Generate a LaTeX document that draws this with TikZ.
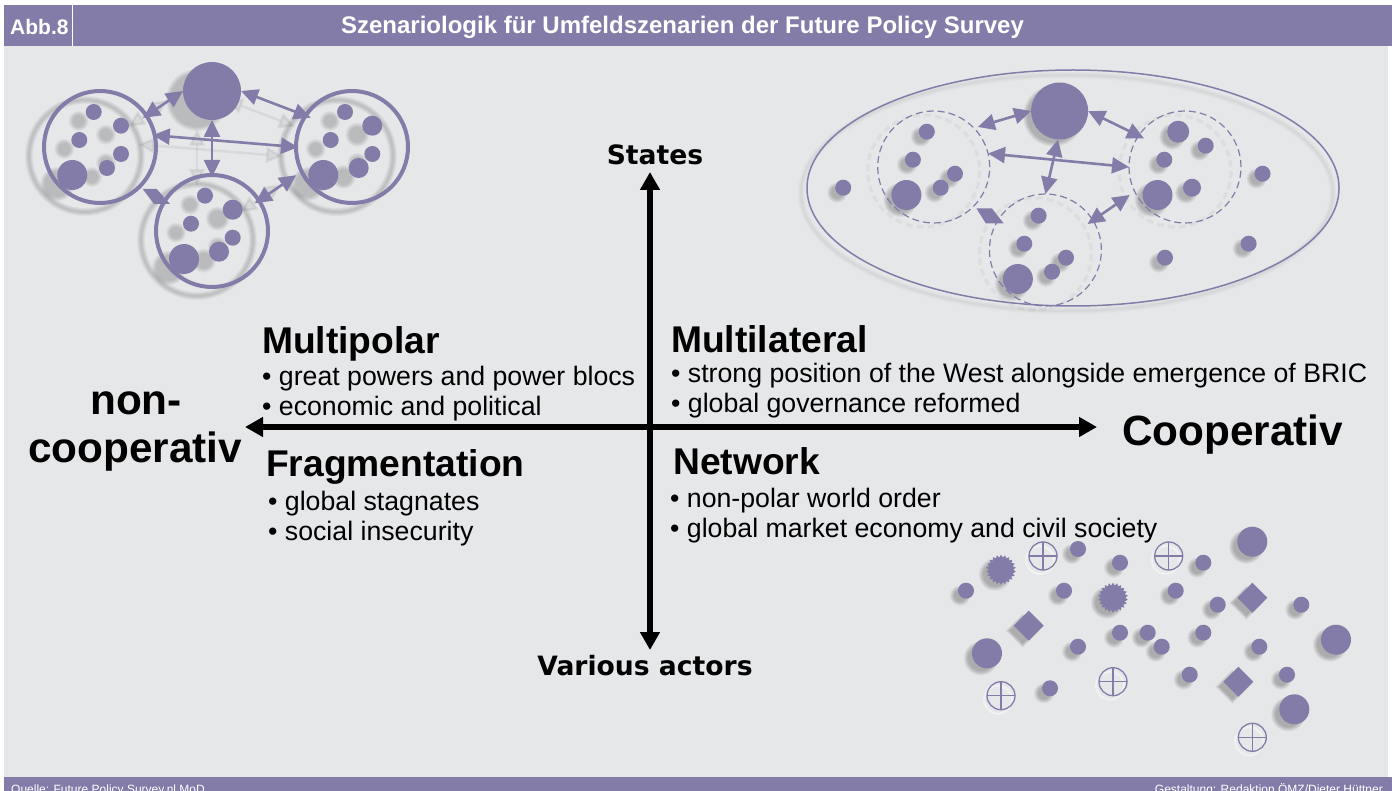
\documentclass[tikz,border=0pt]{standalone}
\usepackage{fontspec}
\setmainfont{Liberation Sans}
\newfontfamily\vfont{DejaVu Sans}
\usetikzlibrary{arrows.meta,shapes.geometric}
\definecolor{pur}{HTML}{837BA8}
\definecolor{panel}{HTML}{E6E7E9}
\pgfdeclarelayer{panellayer}
\pgfdeclarelayer{shadowlayer}
\pgfsetlayers{panellayer,shadowlayer,main}
\tikzset{
  disc/.style={circle,fill=pur,inner sep=0pt,outer sep=0pt,minimum size=#1},
  ring/.style={circle,draw=pur,line width=4pt,inner sep=0pt,outer sep=0pt,minimum size=112pt},
  dashring/.style={circle,draw=pur,line width=1.2pt,dash pattern=on 7pt off 4pt,inner sep=0pt,outer sep=0pt,minimum size=112pt},
  dbl/.style={draw=pur,line width=2.6pt,{Triangle[length=17pt,width=16pt]}-{Triangle[length=17pt,width=16pt]}},
  axisline/.style={draw=black,line width=6pt,{Triangle[length=18pt,width=19pt]}-{Triangle[length=18pt,width=19pt]}},
  badge/.style={diamond,fill=pur,inner sep=0pt,outer sep=0pt,minimum size=30pt},
  burst/.style={star,star points=22,star point ratio=1.22,fill=pur,inner sep=0pt,outer sep=0pt,minimum size=30pt},
  crossring/.style={circle,draw=pur,line width=1.3pt,inner sep=0pt,outer sep=0pt,minimum size=28pt},
  body/.style={anchor=base west,inner sep=0pt,text=black,font=\fontsize{26.7}{30}\selectfont},
  head/.style={anchor=base west,inner sep=0pt,text=black,font=\fontsize{37.2}{40}\selectfont\bfseries},
  big/.style={inner sep=0pt,text=black,font=\fontsize{42.3}{46}\selectfont\bfseries},
  axlabel/.style={anchor=base,inner sep=0pt,text=black,font=\vfont\fontsize{26.6}{28}\selectfont\bfseries},
  foot/.style={inner sep=0pt,text=white,font=\fontsize{12}{14}\selectfont},
}
\def\sx{-15}\def\sy{9}\def\sop{.04}\def\aop{.06}
% named disc with soft shadow
\newcommand{\pd}[4]{%
  \begin{pgfonlayer}{shadowlayer}
  \foreach \dd in {-2,-1,0,1,2}{\fill[black,opacity=\sop] (#2+\sx,#3+\sy) circle[radius=#4+\dd];}
  \end{pgfonlayer}
  \node[disc=2*#4 pt] (#1) at (#2,#3) {};}
\newcommand{\pdia}[3]{%
  \begin{pgfonlayer}{shadowlayer}
  \foreach \dd in {-2,-1,0,1,2}{\fill[black,opacity=\sop] (#2+\sx,#3+\sy-15-\dd) -- (#2+\sx+15+\dd,#3+\sy) -- (#2+\sx,#3+\sy+15+\dd) -- (#2+\sx-15-\dd,#3+\sy) -- cycle;}
  \end{pgfonlayer}
  \node[badge] (#1) at (#2,#3) {};}
\newcommand{\pburst}[3]{%
  \begin{pgfonlayer}{shadowlayer}
  \foreach \dd in {-2,-1,0,1,2}{\fill[black,opacity=\sop] (#2+\sx,#3+\sy) circle[radius=14+\dd];}
  \end{pgfonlayer}
  \node[burst] (#1) at (#2,#3) {};}
\newcommand{\pcross}[3]{%
  \begin{pgfonlayer}{shadowlayer}
  \draw[white,line width=2pt,opacity=.45] (#2-3,#3+4) circle[radius=14];
  \end{pgfonlayer}
  \node[crossring] (#1) at (#2,#3) {};
  \draw[pur,line width=1.3pt] (#1.north) -- (#1.south) (#1.west) -- (#1.east);}
\newcommand{\pring}[4]{%
  \begin{pgfonlayer}{shadowlayer}
  \foreach \ww in {8,6,4,2}{\draw[black,opacity=.045,line width=\ww pt] (#2+\sx,#3+\sy) circle[radius=56];}
  \end{pgfonlayer}
  \node[#4] (#1) at (#2,#3) {};}
\newcommand{\dbar}[4]{%
  \begin{pgfonlayer}{shadowlayer}
  \path[dbl,draw=black,opacity=\aop,shorten <=#3pt,shorten >=#4pt] ([shift={(\sx,\sy)}]#1) -- ([shift={(\sx,\sy)}]#2);
  \end{pgfonlayer}
  \path[dbl,shorten <=#3pt,shorten >=#4pt] (#1) -- (#2);}
\begin{document}
\begin{tikzpicture}[x=1pt,y=-1pt]
\useasboundingbox (0,0) rectangle (1392,791);
\begin{pgfonlayer}{panellayer}
\fill[white] (0,0) rectangle (1392,791);
\fill[panel] (4,46) rectangle (1388,777);
\end{pgfonlayer}
% header and footer bars
\fill[pur] (4,5) rectangle (1392,46);
\fill[pur] (4,777) rectangle (1392,791);
\draw[white,line width=1.3pt] (72.5,5) -- (72.5,46);
\node[anchor=base west,inner sep=0pt,text=white,font=\fontsize{21}{24}\selectfont\bfseries] (abb) at (10,35) {Abb.8};
\node[anchor=base,inner sep=0pt,text=white,font=\fontsize{24}{27}\selectfont\bfseries] (title) at (682.5,34) {Szenariologik für Umfeldszenarien der Future Policy Survey};
\begin{scope}
\clip (0,0) rectangle (1392,791);
\node[foot,anchor=base west] (src) at (11,793) {Quelle: Future Policy Survey.nl MoD};
\node[foot,anchor=base east] (cred) at (1383,793) {Gestaltung: Redaktion ÖMZ/Dieter Hüttner};
\end{scope}
% ---------- top-left: multipolar
\def\sx{-15}\def\sy{9}\def\sop{.04}\def\aop{.06}
\pd{tc}{212}{91}{29}
\pring{ra}{100}{147}{ring}
\pring{rb}{352}{147}{ring}
\pring{rc}{212}{231}{ring}
\foreach \n/\x/\y/\r in {a1/93.7/112/8,a2/121/125.7/8,a3/79.3/140/8,a4/121/154/8,a5/107/168/8,a6/72.3/175/15,
 b1/345/112/8,b2/372.3/125.7/10,b3/330.7/140/8,b4/372.3/154/8,b5/358.7/168/10,b6/323.3/175/15,
 c1/205/195.7/8,c2/232.7/209.7/10,c3/191/223.7/8,c4/232.7/237.7/8,c5/219/251.7/10,c6/184/259/15}
 {\pd{\n}{\x}{\y}{\r}}
\dbar{ra.34}{tc.180}{-4}{0}
\dbar{rb.146}{tc.0}{-5.5}{0}
\dbar{ra.12}{rb.180}{-2}{-2}
\dbar{tc.270}{rc.90}{0}{-2}
\fill[pur] (142.7,189) -- (156.7,189) -- (170,204) -- (154,204) -- cycle;
\dbar{rc.33}{rb.206.6}{-5}{6.5}
% ---------- top-right: multilateral
\def\sx{-6}\def\sy{5}\def\sop{.05}\def\aop{0}
\begin{pgfonlayer}{shadowlayer}
\foreach \ww in {7,5,3,1.5}{\draw[black,opacity=.014,line width=\ww pt] (1067,193) ellipse[x radius=266,y radius=118];}
\foreach \cx/\cy in {933.7/167,1185/167,1045.4/250}{
  \foreach \ww in {4,2.5}{\draw[black,opacity=.02,line width=\ww pt,dash pattern=on 7pt off 4pt] (\cx-10,\cy+4) circle[radius=56];}}
\end{pgfonlayer}
\node[ellipse,draw=pur,line width=1.5pt,inner sep=0pt,outer sep=0pt,minimum width=532pt,minimum height=236pt] (oval) at (1073,188) {};
\node[dashring] (da) at (933.7,167) {};
\node[dashring] (db) at (1185,167) {};
\node[dashring] (dc) at (1045.4,250) {};
\pd{tr}{1059.6}{111}{28.5}
\foreach \n/\x/\y/\r in {e1/926.8/131.7/8,e2/912.9/159.7/8,e3/955/173.7/8,e4/940.7/187.7/8,e5/906.4/195/15,
 f1/1178.2/131.7/11,f2/1205.7/145.7/8,f3/1164.3/159.7/8,f4/1192/187.7/9,f5/1157.5/195/15,
 g1/1038.6/215.7/8,g2/1024.3/243.7/8,g3/1066/257.7/8,g4/1052/271.7/8,g5/1017.9/279/15,
 h1/843.2/187.7/8,h2/1262.5/173.7/8,h3/1248.6/243.7/8,h4/1165/257.7/8}
 {\pd{\n}{\x}{\y}{\r}}
\dbar{da.44.5}{tr.180}{4}{0}
\dbar{db.146}{tr.0}{-6}{0}
\dbar{da.14}{db.180}{0}{0}
\dbar{tr.267}{dc.90}{0}{0}
\fill[pur] (976.4,208.3) -- (991.8,208.3) -- (1003.6,223.3) -- (985.7,223.3) -- cycle;
\dbar{dc.32.7}{db.206}{-6.5}{6}
% ---------- bottom-right: network
\def\sop{.055}
\foreach \n/\x/\y in {s1/966/590.7,s2/1078/549,s3/1120/562.7,s4/1203.3/562.7,s5/1064/590.7,s6/1175.7/590.7,s7/1217.7/604.7,s8/1301.3/604.7,s9/1120/632.7,s10/1147.7/632.7,s11/1161.7/646.7,s12/1203.3/632.7,s13/1078/646.7,s14/1259.3/646.7,s15/1189.7/674.7,s16/1287/674.7,s17/1050/688.3}
 {\pd{\n}{\x}{\y}{8}}
\foreach \n/\x/\y in {l1/1252.3/541.7,l2/1336/639.7,l3/987/653.3,l4/1294.3/709.3}
 {\pd{\n}{\x}{\y}{15}}
\foreach \n/\x/\y in {q1/1252.3/597.7,q2/1028.7/625.7,q3/1238.3/681.7}
 {\pdia{\n}{\x}{\y}}
\foreach \n/\x/\y in {z1/1001/569.7,z2/1113/597.7}
 {\pburst{\n}{\x}{\y}}
\foreach \n/\x/\y in {k1/1043/556,k2/1168.7/556,k3/1113/681.7,k4/1001/695.7,k5/1252.3/737.3}
 {\pcross{\n}{\x}{\y}}
% ---------- axes
\coordinate (axt) at (650,172);
\coordinate (axb) at (650,650);
\coordinate (axl) at (245,427);
\coordinate (axr) at (1097,427);
\path[axisline] (axt) -- (axb);
\path[axisline] (axl) -- (axr);
\node[axlabel] (states) at (655,165) {States};
\node[axlabel] (actors) at (645,675) {Various actors};
\node[big,anchor=base] (non1) at (136,414) {non-};
\node[big,anchor=base] (non2) at (135,462) {cooperativ};
\node[big,anchor=base west] (coop) at (1122,445) {Cooperativ};
% ---------- quadrant texts
\node[head] (mp) at (262,353.5) {Multipolar};
\node[body] (mp1) at (262,385) {• great powers and power blocs};
\node[body] (mp2) at (262,415) {• economic and political};
\node[head] (fr) at (266,476) {Fragmentation};
\node[body] (fr1) at (268,510) {• global stagnates};
\node[body] (fr2) at (268,540) {• social insecurity};
\node[head] (ml) at (671,352.5) {Multilateral};
\node[body] (ml1) at (671,382) {• strong position of the West alongside emergence of BRIC};
\node[body] (ml2) at (671,412) {• global governance reformed};
\node[head] (nw) at (673,474) {Network};
\node[body] (nw1) at (670,507) {• non-polar world order};
\node[body] (nw2) at (670,537) {• global market economy and civil society};
\end{tikzpicture}
\end{document}
